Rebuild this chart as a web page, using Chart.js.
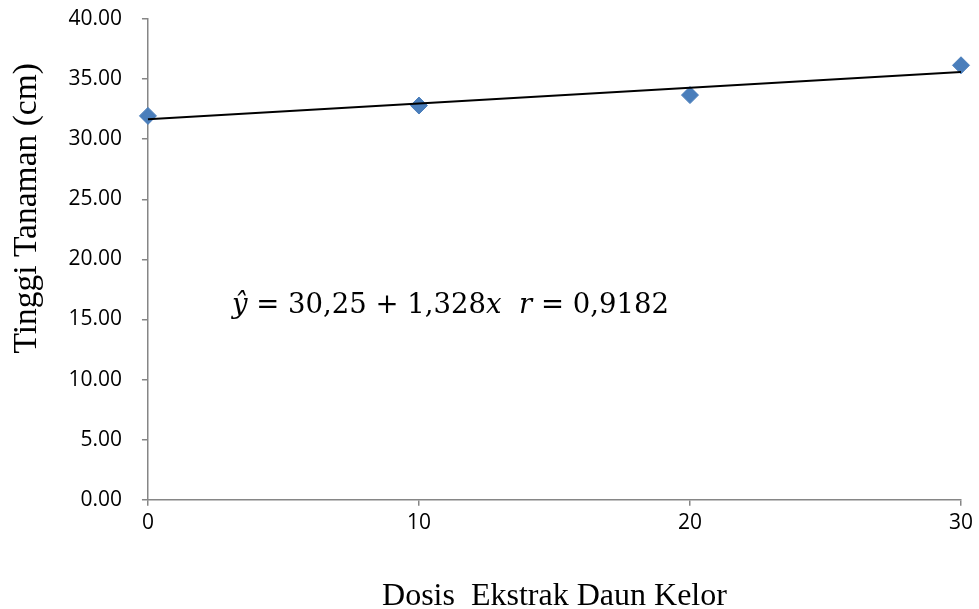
<!DOCTYPE html>
<html>
<head>
<meta charset="utf-8">
<script src="https://cdn.jsdelivr.net/npm/chart.js@4.4.1/dist/chart.umd.min.js"></script>
<style>
  html, body { margin: 0; padding: 0; background: #fff; }
  #wrap { width: 979px; height: 609px; position: relative; }
</style>
</head>
<body>
<div id="wrap"><canvas id="chart"></canvas></div>
<script>
// data
const doses = [0, 10, 20, 30];
const heights = [31.94, 32.8, 33.67, 36.15];
const trendX = [0, 30];
const trendY = [31.66, 35.59];
const yTicks = [0, 5, 10, 15, 20, 25, 30, 35, 40];
const xTicks = [0, 10, 20, 30];
const yTitle = "Tinggi Tanaman (cm)";
const xTitle = "Dosis  Ekstrak Daun Kelor";
// equation pieces: [text, italic?]
const equationParts = [
  ["ŷ", true],
  [" = 30,25 + 1,328", false],
  ["x", true],
  ["  ", false],
  ["r", true],
  [" = 0,9182", false],
];

const axisGray = "#868686";
const tickFont = { family: "'Open Sans', 'Liberation Sans', sans-serif", size: 21 };
const titleFont = { family: "'Liberation Serif', serif", size: 32, lineHeight: 1 };

// draws the regression equation and the y title (which sits above centre, like Excel)
const extrasPlugin = {
  id: "extras",
  afterDatasetsDraw(chart) {
    const ctx = chart.ctx;
    const xs = chart.scales.x;
    const ys = chart.scales.y;
    let x = xs.getPixelForValue(3.1);
    const y = ys.getPixelForValue(16.1);
    ctx.save();
    ctx.fillStyle = "#000";
    ctx.textBaseline = "middle";
    ctx.textAlign = "left";
    equationParts.forEach(([txt, italic]) => {
      ctx.font = (italic ? "italic " : "") + "27.5px 'DejaVu Serif', serif";
      ctx.fillText(txt, x, y);
      x += ctx.measureText(txt).width;
    });

    // y axis title
    ctx.translate(27, ys.getPixelForValue(24.25));
    ctx.rotate(-Math.PI / 2);
    ctx.textAlign = "center";
    ctx.font = "33.5px 'Liberation Serif', serif";
    ctx.fillText(yTitle, 0, 0);
    ctx.restore();
  },
};

const config = {
  type: "scatter",
  data: {
    datasets: [
      {
        label: "Tinggi",
        data: doses.map((d, i) => ({ x: d, y: heights[i] })),
        pointStyle: "rectRot",
        pointRadius: 8.5,
        pointHoverRadius: 8.5,
        backgroundColor: "#4a7ebb",
        borderColor: "#4a7ebb",
        borderWidth: 1,
        clip: false,
        order: 1,
      },
      {
        label: "Trend",
        type: "line",
        data: trendX.map((d, i) => ({ x: d, y: trendY[i] })),
        borderColor: "#000",
        borderWidth: 1.8,
        pointRadius: 0,
        fill: false,
        clip: false,
        order: 0,
      },
    ],
  },
  options: {
    responsive: false,
    animation: false,
    layout: { padding: { top: 0, right: 18, left: 0, bottom: 0 } },
    plugins: {
      legend: { display: false },
      tooltip: { enabled: false },
    },
    scales: {
      x: {
        type: "linear",
        min: 0,
        max: 30,
        afterBuildTicks: (axis) => {
          axis.ticks = xTicks.map((v) => ({ value: v }));
        },
        grid: {
          drawOnChartArea: false,
          tickLength: 6,
          color: axisGray,
          lineWidth: 1.5,
        },
        border: { color: axisGray, width: 1.5 },
        ticks: {
          color: "#000",
          font: tickFont,
          padding: 5,
        },
        title: {
          display: true,
          text: xTitle,
          color: "#000",
          font: titleFont,
          padding: { top: 40, bottom: -4 },
        },
      },
      y: {
        min: 0,
        max: 40,
        afterBuildTicks: (axis) => {
          axis.ticks = yTicks.map((v) => ({ value: v }));
        },
        // tick padding would otherwise push the plot down
        afterFit: (axis) => {
          axis.paddingTop = 19;
          axis.paddingBottom = 13;
        },
        grid: {
          drawOnChartArea: false,
          tickLength: 6,
          color: axisGray,
          lineWidth: 1.5,
        },
        border: { color: axisGray, width: 1.5 },
        ticks: {
          color: "#000",
          font: tickFont,
          padding: 20,
          callback: (v) => Number(v).toFixed(2),
        },
        // reserves room; the text itself is drawn by the plugin
        title: {
          display: true,
          text: yTitle,
          color: "rgba(0,0,0,0)",
          font: { family: "'Liberation Serif', serif", size: 32 },
          padding: { top: 8, bottom: 2 },
        },
      },
    },
  },
  plugins: [extrasPlugin],
};

const canvas = document.getElementById("chart");
canvas.width = 979;
canvas.height = 609;
new Chart(canvas, config);
</script>
</body>
</html>
